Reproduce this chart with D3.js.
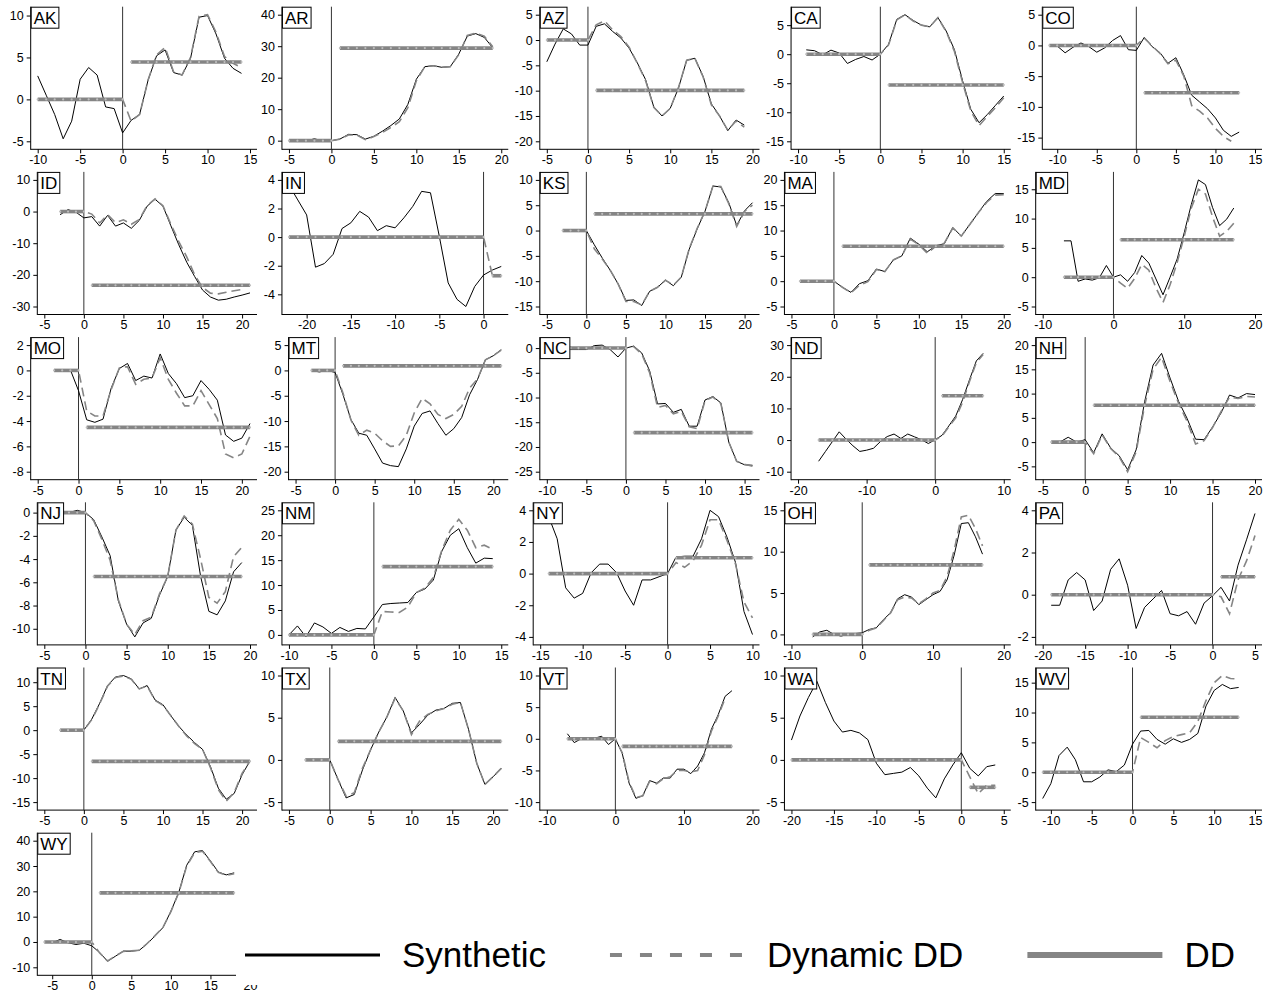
<!DOCTYPE html>
<html>
<head>
<meta charset="utf-8">
<script src="https://cdn.jsdelivr.net/npm/d3@7"></script>
<style>
  body { margin: 0; background: #fff; }
  text { font-family: "Liberation Sans", Arial, Helvetica, sans-serif; }
</style>
</head>
<body>
<script>
// states, in panel order
const states = ["AK","AR","AZ","CA","CO","ID","IN","KS","MA","MD","MO","MT","NC","ND","NH","NJ","NM","NY","OH","PA","TN","TX","VT","WA","WV","WY"];

// first event-time period of each state (synthetic series starts here, ends at first + length - 1)
const firstPeriod = [-10,-5,-5,-9,-11,-3,-22,-3,-4,-7,-3,-3,-8,-17,-4,-4,-10,-14,-7,-19,-3,-3,-7,-20,-11,-6];

// DD post-treatment estimate (pre-treatment DD is 0)
const ddEffect = [4.45,29.4,-9.95,-5.3,-7.7,-23.3,-2.7,3.3,6.9,6.4,-4.5,0.9,-17.1,14.0,7.6,-5.5,13.7,1.0,8.4,0.85,-6.5,2.2,-1.2,-3.25,9.2,19.4];

// synthetic control gap, from firstPeriod onwards
const synthetic = {
  AK: [2.8,0.5,-1.8,-4.7,-2.6,2.4,3.8,2.9,-0.9,-1.1,-4.0,-2.5,-1.8,2.3,5.2,5.9,3.2,2.9,4.9,9.8,10.0,7.8,4.9,3.7,3.1],
  AR: [-0.2,-0.2,-0.1,0.6,-0.1,0,0.5,2.0,1.9,0.5,1.4,3.0,4.8,6.9,11.5,19.5,23.5,23.8,23.3,23.5,27.5,33.2,34.0,32.8,29.5],
  AZ: [-4.3,-0.8,2.2,1.2,-1.0,-1.0,2.7,3.2,1.7,0.4,-1.6,-4.5,-7.8,-13.2,-15.0,-13.5,-9.5,-4.0,-3.6,-7.2,-12.6,-15.0,-17.9,-15.8,-16.8],
  CA: [0.75,0.6,-0.1,0.7,0.2,-1.6,-0.9,-0.4,-1.0,0.0,1.7,6.0,6.8,5.8,5.0,4.7,6.3,4.0,0.8,-4.6,-9.5,-11.8,-10.4,-8.8,-7.2],
  CO: [0.0,-0.1,-1.2,-0.3,0.4,-0.2,-1.1,-0.4,0.8,1.6,-0.7,-0.8,1.3,-0.2,-1.2,-2.9,-2.0,-4.8,-8.1,-9.2,-10.3,-11.8,-13.8,-14.8,-14.1],
  ID: [-1.0,0.6,-0.2,-2.0,-1.6,-4.6,-1.2,-4.6,-3.6,-5.3,-2.8,1.7,3.9,1.7,-4.5,-10.5,-16.0,-20.5,-24.8,-27.0,-28.0,-27.7,-27.0,-26.4,-25.7],
  IN: [3.65,2.6,1.55,-2.1,-1.85,-1.2,0.6,1.0,1.8,1.4,0.45,0.8,0.65,1.35,2.15,3.2,3.1,0.05,-3.2,-4.35,-4.85,-3.45,-2.65,-2.3,-2.05],
  KS: [0,0,0,0,-2.8,-5.4,-7.8,-10.5,-13.8,-13.7,-14.8,-12.0,-11.2,-9.8,-10.9,-9.2,-3.7,0.3,3.8,8.8,8.6,5.5,1.0,3.9,5.5],
  MA: [0,-0.2,0,0,0,-1.2,-2.2,-0.5,0.1,2.4,1.9,4.2,5.0,8.5,7.3,5.8,7.0,7.4,10.6,8.9,11.2,13.5,15.8,17.3,17.3],
  MD: [6.2,6.2,-0.7,-0.3,-0.5,-0.1,2.0,0,0.4,-0.7,0.8,3.7,2.4,-0.3,-3.0,0,3.1,7.6,12.4,16.6,15.8,11.9,8.8,9.9,11.8],
  MO: [0,0,0.05,-1.6,-3.9,-4.1,-3.85,-1.4,0.15,0.55,-0.8,-0.45,-0.6,1.3,-0.25,-1.05,-2.15,-2.0,-0.8,-1.5,-2.35,-5.1,-5.6,-5.35,-4.2],
  MT: [0,-0.3,0,-0.4,-4.8,-9.7,-12.4,-12.8,-15.5,-18.3,-18.8,-19.0,-15.5,-11.0,-8.5,-8.0,-10.5,-12.8,-11.5,-9.3,-4.8,-1.8,2.1,2.9,4.1],
  NC: [-0.2,-0.3,-0.3,-0.3,0.5,0.6,-0.3,-1.8,0,0.4,-1.0,-4.6,-11.3,-11.2,-13.0,-12.4,-15.8,-15.8,-10.5,-9.8,-11.1,-19.0,-22.9,-23.6,-23.7],
  ND: [-6.7,-3.6,-0.5,2.6,0.3,-1.8,-3.6,-3.2,-2.6,-0.5,1.1,1.9,0.5,1.9,1.0,0.1,-1.1,0.1,1.5,4.5,7.6,12.8,19.0,25.0,27.4],
  NH: [0,0,1.0,0,0.5,-2.2,1.7,-1.2,-2.8,-5.7,-1.6,8.3,15.9,18.3,13.2,8.4,4.9,0.6,0.5,3.1,6.0,9.7,9.1,10.0,9.8],
  NJ: [0.1,0.1,0.0,0.2,0,-0.6,-2.1,-3.7,-7.6,-9.6,-10.7,-9.5,-9.1,-7.1,-5.5,-1.5,-0.4,-1.1,-5.5,-8.5,-8.8,-7.6,-5.1,-4.3],
  NM: [0,1.8,-0.4,2.4,1.6,0.3,1.5,0.7,1.3,1.2,3.6,6.1,6.3,6.4,6.5,8.5,9.2,11.0,16.8,20.0,21.3,17.5,14.4,15.4,15.3],
  NY: [3.6,2.2,-0.9,-1.55,-1.25,0.05,0.6,0.6,0.05,-1.1,-2.0,-0.4,-0.4,-0.2,0,1.05,1.1,1.1,2.2,4.0,3.6,2.3,0.7,-2.4,-3.85],
  OH: [-0.3,0.3,0.5,0,-0.2,0,0.1,0.2,0.6,0.8,1.8,2.6,4.3,4.8,4.5,3.6,4.2,4.8,5.2,6.6,9.6,13.4,13.5,11.8,9.7],
  PA: [-0.5,-0.5,0.7,1.05,0.7,-0.75,-0.3,1.2,1.7,0.45,-1.6,-0.6,-0.2,0.2,-0.9,-1.0,-0.8,-1.4,-0.4,-0.05,0.35,-0.3,1.4,2.6,3.85],
  TN: [0,0,0,0,2.3,5.6,9.3,11.1,11.4,10.7,8.6,9.3,6.3,5.3,3.0,0.8,-1.0,-2.6,-4.0,-7.6,-12.1,-14.4,-13.2,-9.3,-6.4],
  TX: [0,0,0,0,-2.3,-4.5,-4.1,-1.2,1.2,3.3,5.1,7.4,5.8,3.2,4.2,5.3,5.9,6.1,6.7,6.8,3.6,-0.4,-2.9,-2.0,-1.0],
  VT: [0.8,-0.6,0,-0.1,0.1,0.4,-0.9,0,-2.3,-7.0,-9.4,-9.0,-6.6,-7.0,-6.2,-6.2,-4.8,-4.8,-5.5,-4.3,-2.2,1.5,3.8,6.7,7.6],
  WA: [2.35,5.2,7.4,9.3,6.8,4.6,3.3,3.5,3.2,2.4,-0.4,-1.75,-1.6,-1.45,-0.9,-1.9,-3.35,-4.5,-2.25,-0.6,0.85,-1.0,-1.9,-0.8,-0.6],
  WV: [-4.4,-1.9,2.8,4.2,2.1,-1.6,-1.6,-0.8,0.4,0.1,1.2,4.7,6.9,7.0,5.5,4.7,5.6,5.0,5.5,6.5,11.1,13.7,14.7,14.0,14.2],
  WY: [0,-0.3,1.0,-0.3,-1.0,-0.5,-1.5,-4.2,-7.6,-5.6,-3.6,-3.6,-3.3,-0.7,2.4,5.7,12.1,19.6,30.3,35.6,36.1,32.0,27.6,26.5,27.3]
};

// dynamic DD estimates for post periods 1, 2, ... (pre periods are 0)
const dynamicPost = {
  AK: [-2.6,-1.8,2.3,5.3,6.2,3.3,2.9,5.0,9.9,10.1,8.0,5.1,4.3,3.8],
  AR: [0.5,1.8,1.8,0.3,1.3,2.6,4.2,6.0,10.5,19.0,23.5,23.8,23.3,23.5,27.3,33.4,34.2,33.2,29.8],
  AZ: [3.0,3.8,2.0,0.7,-1.4,-4.6,-8.0,-13.3,-15.0,-13.5,-9.4,-4.0,-3.6,-7.3,-12.8,-15.0,-17.8,-16.0,-17.2],
  CA: [1.6,5.9,6.8,5.7,5.0,4.7,6.3,3.9,0.5,-4.9,-9.8,-12.3,-10.7,-9.2,-7.5],
  CO: [1.2,-0.1,-1.3,-3.0,-2.4,-5.0,-9.8,-10.7,-11.8,-13.5,-14.8,-15.6],
  ID: [-0.8,-3.6,-1.0,-3.5,-2.6,-4.0,-2.5,1.9,4.0,1.8,-4.0,-9.5,-14.3,-20.0,-24.0,-25.8,-26.0,-25.5,-25.0,-24.6],
  IN: [-2.7,-2.7],
  KS: [-3.6,-5.6,-7.8,-10.5,-14.0,-14.0,-14.7,-12.0,-11.2,-9.8,-10.8,-9.2,-3.6,0.4,3.8,8.8,8.7,5.3,0.8,3.8,5.0],
  MA: [-1.2,-2.3,-0.8,-0.1,2.3,1.9,4.2,5.0,8.3,7.2,5.5,6.9,7.5,10.5,8.9,11.2,13.5,15.6,17.0,17.1],
  MD: [-1.0,-1.9,-0.2,2.2,1.2,-1.8,-4.3,-1.3,2.5,7.0,11.8,15.0,14.2,10.3,7.0,7.8,9.2],
  MO: [-3.2,-3.6,-3.6,-1.5,0.2,0.3,-1.1,-0.7,-0.6,1.0,-0.7,-1.8,-2.8,-2.8,-1.6,-2.7,-3.8,-6.6,-6.9,-6.6,-5.2],
  MT: [-4.5,-9.8,-12.8,-11.8,-12.4,-13.9,-15.0,-14.9,-12.8,-8.4,-5.5,-6.6,-8.7,-9.5,-8.7,-7.1,-3.5,-1.7,2.1,2.9,4.0],
  NC: [0.3,-1.2,-5.0,-12.0,-11.6,-13.3,-12.8,-15.9,-16.3,-10.6,-9.9,-11.2,-19.0,-22.9,-23.5,-23.9],
  ND: [1.3,4.2,7.0,12.0,18.5,24.5,27.0],
  NH: [-2.4,1.5,-1.3,-3.0,-6.1,-2.0,7.5,15.0,17.5,12.5,8.0,4.3,-0.4,0.3,3.0,6.3,9.3,9.0,9.4,9.3],
  NJ: [-0.7,-2.3,-4.1,-7.5,-9.6,-10.5,-9.3,-9.0,-7.0,-5.5,-1.5,-0.3,-1.0,-4.0,-7.3,-7.8,-6.8,-3.8,-3.0],
  NM: [4.7,4.6,4.5,5.6,8.5,9.4,11.5,17.0,21.0,23.2,21.0,17.5,18.0,17.2],
  NY: [0.7,0.4,0.8,1.8,3.4,3.4,2.1,0.6,-1.8,-2.8],
  OH: [0.5,0.8,1.7,2.6,4.2,4.5,4.4,3.7,4.3,5.0,5.3,7.0,10.2,14.2,14.4,12.8,10.7],
  PA: [-0.1,-0.9,0.7,1.6,2.8],
  TN: [2.2,5.5,9.2,11.0,11.3,10.6,8.6,9.2,6.2,5.2,3.0,0.8,-1.2,-2.8,-4.0,-7.8,-12.4,-14.8,-13.0,-9.0,-6.4],
  TX: [-2.3,-4.3,-3.9,-1.0,1.2,3.3,5.1,7.3,5.8,3.0,4.6,5.4,5.8,6.1,6.6,6.8,3.6,-0.4,-2.9,-2.0,-1.0],
  VT: [-2.2,-6.8,-9.3,-9.0,-6.7,-7.1,-6.3,-6.0,-5.0,-5.0,-5.2,-5.0,-2.5,1.2,3.6,6.4],
  WA: [-2.0,-4.0,-3.0,-3.0],
  WV: [5.8,5.0,4.1,5.3,6.0,6.3,6.6,8.5,12.0,15.0,16.2,15.7,15.6],
  WY: [-4.3,-7.5,-5.5,-3.7,-3.5,-3.3,-0.6,2.5,5.8,12.0,19.5,30.0,35.3,35.8,31.8,27.5,26.3,27.0]
};

// axis tick labels per panel
const xTicks = {
  AK: [-10,-5,0,5,10,15], AR: [-5,0,5,10,15,20], AZ: [-5,0,5,10,15,20], CA: [-10,-5,0,5,10,15], CO: [-10,-5,0,5,10,15],
  ID: [-5,0,5,10,15,20], IN: [-20,-15,-10,-5,0], KS: [-5,0,5,10,15,20], MA: [-5,0,5,10,15,20], MD: [-10,0,10,20],
  MO: [-5,0,5,10,15,20], MT: [-5,0,5,10,15,20], NC: [-10,-5,0,5,10,15], ND: [-20,-10,0,10], NH: [-5,0,5,10,15,20],
  NJ: [-5,0,5,10,15,20], NM: [-10,-5,0,5,10,15], NY: [-15,-10,-5,0,5,10], OH: [-10,0,10,20], PA: [-20,-15,-10,-5,0,5],
  TN: [-5,0,5,10,15,20], TX: [-5,0,5,10,15,20], VT: [-10,0,10,20], WA: [-20,-15,-10,-5,0,5], WV: [-10,-5,0,5,10,15],
  WY: [-5,0,5,10,15,20]
};
const yTicks = {
  AK: [-5,0,5,10], AR: [0,10,20,30,40], AZ: [-20,-15,-10,-5,0,5], CA: [-15,-10,-5,0,5], CO: [-15,-10,-5,0,5],
  ID: [-30,-20,-10,0,10], IN: [-4,-2,0,2,4], KS: [-15,-10,-5,0,5,10], MA: [-5,0,5,10,15,20], MD: [-5,0,5,10,15],
  MO: [-8,-6,-4,-2,0,2], MT: [-20,-15,-10,-5,0,5], NC: [-25,-20,-15,-10,-5,0], ND: [-10,0,10,20,30], NH: [-5,0,5,10,15,20],
  NJ: [-10,-8,-6,-4,-2,0], NM: [0,5,10,15,20,25], NY: [-4,-2,0,2,4], OH: [0,5,10,15], PA: [-2,0,2,4],
  TN: [-15,-10,-5,0,5,10], TX: [-5,0,5,10], VT: [-10,-5,0,5,10], WA: [-5,0,5,10], WV: [-5,0,5,10,15],
  WY: [-10,0,10,20,30,40]
};

const legendItems = ["Synthetic", "Dynamic DD", "DD"];

const W = 1275, H = 995;
const cellW = 251.25, cellH = 165.2;
const grey = "#858585";

const svg = d3.select("body").append("svg")
  .attr("width", W).attr("height", H)
  .style("display", "block");

states.forEach((st, i) => {
  const col = i % 5, row = Math.floor(i / 5);
  const cx = col * cellW, cy = row * cellH;
  const xt = xTicks[st], yt = yTicks[st];
  const syn = synthetic[st];
  const t0 = firstPeriod[i];
  const tEnd = t0 + syn.length - 1;

  const synData = syn.map((v, k) => ({ t: t0 + k, v: v }));
  const dynData = d3.range(t0, 1).map(t => ({ t: t, v: 0 }))
    .concat(dynamicPost[st].map((v, k) => ({ t: k + 1, v: v })));
  const ddPre = d3.range(t0, 1).map(t => ({ t: t, v: 0 }));
  const ddPost = d3.range(1, tEnd + 1).map(t => ({ t: t, v: ddEffect[i] }));

  // plot region (Stata leaves room for the widest y label)
  const nChars = d3.max(yt, d => String(d).length);
  const left = cx + 17.5 + 6.6 * nChars;
  const right = cx + 257;
  const top = cy + 6.7;
  const bottom = cy + 149.3;

  const allV = syn.concat(dynamicPost[st], [0, ddEffect[i]], yt);
  const x = d3.scaleLinear()
    .domain([Math.min(t0, d3.min(xt)), Math.max(tEnd, d3.max(xt))])
    .range([left + 7, right - 7]);
  const y = d3.scaleLinear()
    .domain(d3.extent(allV))
    .range([bottom - 8, top + 8]);

  const g = svg.append("g");

  // axes
  const yAxis = g.append("g")
    .attr("transform", `translate(${left},0)`)
    .call(d3.axisLeft(y).tickValues(yt).tickFormat(d => String(d)).tickSize(4).tickPadding(3));
  const xAxis = g.append("g")
    .attr("transform", `translate(0,${bottom})`)
    .call(d3.axisBottom(x).tickValues(xt).tickFormat(d => String(d)).tickSize(4).tickPadding(2));
  [yAxis, xAxis].forEach(a => {
    a.select(".domain").remove();
    a.selectAll("text").attr("font-size", 12.5).attr("fill", "#000");
    a.selectAll("line").attr("stroke", "#000");
  });
  g.append("line").attr("x1", left).attr("x2", left).attr("y1", top).attr("y2", bottom + 0.5)
    .attr("stroke", "#000");
  g.append("line").attr("x1", left).attr("x2", right).attr("y1", bottom).attr("y2", bottom)
    .attr("stroke", "#000");

  // treatment date
  g.append("line")
    .attr("x1", x(0)).attr("x2", x(0)).attr("y1", top).attr("y2", bottom)
    .attr("stroke", "#333").attr("stroke-width", 1);

  const line = d3.line().x(d => x(d.t)).y(d => y(d.v));

  g.append("path").datum(synData).attr("d", line)
    .attr("fill", "none").attr("stroke", "#000").attr("stroke-width", 1);

  g.append("path").datum(dynData).attr("d", line)
    .attr("fill", "none").attr("stroke", grey).attr("stroke-width", 1.6)
    .attr("stroke-dasharray", "9,5");

  [ddPre, ddPost].forEach(seg => {
    g.append("path").datum(seg).attr("d", line)
      .attr("fill", "none").attr("stroke", grey).attr("stroke-width", 3.6);
    g.selectAll(null).data(seg).enter().append("circle")
      .attr("cx", d => x(d.t)).attr("cy", d => y(d.v)).attr("r", 1.1)
      .attr("fill", "#bdbdbd");
  });

  // state label box
  const box = g.append("rect")
    .attr("x", left + 0.5).attr("y", top + 0.5).attr("height", 21)
    .attr("fill", "#fff").attr("stroke", "#000").attr("stroke-width", 1);
  const lab = g.append("text")
    .attr("x", left + 3).attr("y", top + 17)
    .attr("font-size", 17).attr("fill", "#000").text(st);
  box.attr("width", lab.node().getComputedTextLength() + 5);
});

// legend panel (covers the right end of the last plot)
const leg = svg.append("g");
leg.append("rect").attr("x", 236).attr("y", 832).attr("width", W - 236).attr("height", 153)
  .attr("fill", "#fff");

const legY = 955;
const legStyle = {
  "Synthetic": { stroke: "#000", w: 3, dash: null },
  "Dynamic DD": { stroke: grey, w: 4, dash: "12,18" },
  "DD": { stroke: grey, w: 6, dash: null }
};
let legCursor = 245;
legendItems.forEach(k => {
  const x0 = legCursor;
  leg.append("line").attr("x1", x0).attr("x2", x0 + 135).attr("y1", legY).attr("y2", legY)
    .attr("stroke", legStyle[k].stroke).attr("stroke-width", legStyle[k].w)
    .attr("stroke-dasharray", legStyle[k].dash);
  const t = leg.append("text").attr("x", x0 + 157).attr("y", legY + 12)
    .attr("font-size", 35).attr("fill", "#000").text(k);
  legCursor = x0 + 157 + t.node().getComputedTextLength() + 64;
});
</script>
</body>
</html>
